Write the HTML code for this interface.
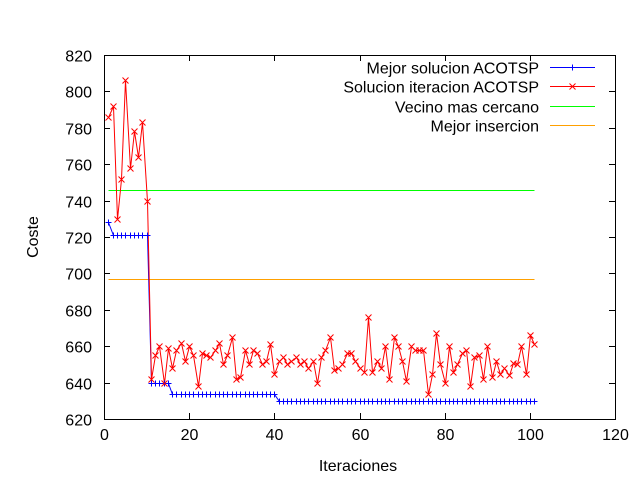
<!DOCTYPE html>
<html><head><meta charset="utf-8"><style>
body{margin:0;background:#fff}
svg{display:block;font-family:"Liberation Sans",sans-serif;font-size:16px}
</style></head><body>
<svg id="chart" width="640" height="480" viewBox="0 0 640 480" xmlns="http://www.w3.org/2000/svg">
<rect x="0" y="0" width="640" height="480" fill="#fff"/>
<g id="axes"></g>
<g id="series"></g>
<g id="legend"></g>
</svg>
<script>
const xTicks=[0,20,40,60,80,100,120];
const yTicks=[620,640,660,680,700,720,740,760,780,800,820];
const bestAco=[728,721,721,721,721,721,721,721,721,721,640,640,640,640,640,634,634,634,634,634,634,634,634,634,634,634,634,634,634,634,634,634,634,634,634,634,634,634,634,634,630,630,630,630,630,630,630,630,630,630,630,630,630,630,630,630,630,630,630,630,630,630,630,630,630,630,630,630,630,630,630,630,630,630,630,630,630,630,630,630,630,630,630,630,630,630,630,630,630,630,630,630,630,630,630,630,630,630,630,630,630];
const iterAco=[786,792,730,752,806,758,778,764,783,740,642,655,660,640,659,648,658,662,652,660,655,638,656,655,654,658,662,650,655,665,642,643,658,650,658,656,650,652,661,645,652,654,650,652,654,650,652,648,652,640,654,658,665,647,648,650,656,656,652,648,646,676,646,652,648,660,642,665,660,652,641,660,658,658,658,634,645,667,650,640,660,646,650,656,658,638,654,655,642,660,643,652,645,648,644,651,650,660,645,666,661];
const nearest=[746,746];
const insertion=[697,697];
const constX=[1,101];
const L=104,R=615,T=55,B=419;
const sx=v=>L+(v-0)/120*(R-L);
const sy=v=>B-(v-620)/200*(B-T);
const px=v=>Math.round(v)+0.5;
const NS="http://www.w3.org/2000/svg";
function mk(tag,attrs,parent){const e=document.createElementNS(NS,tag);for(const k in attrs)e.setAttribute(k,attrs[k]);parent.appendChild(e);return e;}
const ax=document.getElementById('axes'),se=document.getElementById('series'),lg=document.getElementById('legend');
const frame=mk('rect',{x:L+0.5,y:T+0.5,width:R-L,height:B-T,fill:'none',stroke:'#000','stroke-width':1},ax);


xTicks.forEach(t=>{const x=px(sx(t));
 const l=mk('path',{d:`M${x} ${B}v-6M${x} ${T}v6`,stroke:'#000'},ax);
 
 
 const tx=mk('text',{x:x,y:B+21,'text-anchor':'middle'},ax);tx.textContent=t;
 
 });
yTicks.forEach(t=>{const y=px(sy(t));
 const l=mk('path',{d:`M${L} ${y}h6M${R} ${y}h-6`,stroke:'#000'},ax);
 
 
 const tx=mk('text',{x:L-12,y:y+6,'text-anchor':'end'},ax);tx.textContent=t;
 
 });
const xt=mk('text',{x:358,y:471,'text-anchor':'middle'},ax);xt.textContent='Iteraciones';


const yt=mk('text',{x:38,y:237,'text-anchor':'middle',transform:'rotate(-90 38 237)'},ax);yt.textContent='Coste';


function line(xs,ys,color,name){const d=ys.map((v,i)=>(i?'L':'M')+px(sx(xs[i]))+' '+px(sy(v))).join('');
 const p=mk('path',{d:d,fill:'none',stroke:color,'stroke-width':1},se);
 
 
 return p;}
const idx=iterAco.map((_,i)=>i+1);
line(constX,nearest,'#00ff00','nearest-neighbor-line');
line(constX,insertion,'#ffa000','best-insertion-line');
line(idx,bestAco,'#0000ff','best-acotsp-line');
line(idx,iterAco,'#ff0000','iteration-acotsp-line');
bestAco.forEach((v,i)=>{const x=px(sx(i+1)),y=px(sy(v));
 const m=mk('path',{d:`M${x-3} ${y}h6M${x} ${y-3}v6`,stroke:'#0000ff'},se);
 
 });
iterAco.forEach((v,i)=>{const x=px(sx(i+1)),y=px(sy(v));
 const m=mk('path',{d:`M${x-3} ${y-3}l6 6M${x-3} ${y+3}l6 -6`,stroke:'#ff0000'},se);
 
 });
const entries=[['Mejor solucion ACOTSP','#0000ff','plus'],['Solucion iteracion ACOTSP','#ff0000','x'],['Vecino mas cercano','#00ff00',''],['Mejor insercion','#ffa000','']];
entries.forEach((e,i)=>{const y=px(67+i*19.3);
 const t=mk('text',{x:539,y:y+6,'text-anchor':'end'},lg);t.textContent=e[0];
 
 
 const l=mk('path',{d:`M550 ${y}h45`,stroke:e[1]},lg);
 
 
 if(e[2]==='plus'){mk('path',{d:`M569.5 ${y}h6M572.5 ${y-3}v6`,stroke:e[1]},lg);}
 if(e[2]==='x'){mk('path',{d:`M569.5 ${y-3}l6 6M569.5 ${y+3}l6 -6`,stroke:e[1]},lg);}
});
</script>
</body></html>
